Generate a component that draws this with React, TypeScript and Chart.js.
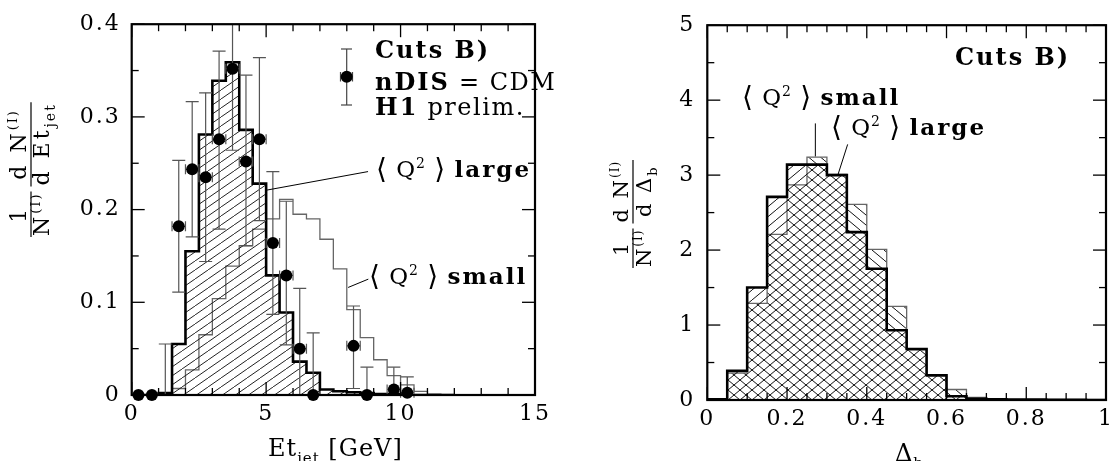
import React, { useEffect, useRef } from 'react';
import { Chart, registerables } from 'chart.js';

Chart.register(...registerables);

const SERIF = "'DejaVu Serif', 'DejaVu Sans', serif";

// ---------- Left panel: Et_jet distribution ----------
const etBinEdges = [0, 0.5, 1, 1.5, 2, 2.5, 3, 3.5, 4, 4.5, 5, 5.5, 6, 6.5, 7, 7.5, 8, 8.5, 9, 9.5, 10, 10.5, 11, 11.5, 12];
const etLargeQ2 = [0, 0, 0.002, 0.055, 0.155, 0.281, 0.339, 0.359, 0.286, 0.228, 0.129, 0.089, 0.036, 0.024, 0.006, 0.004, 0.003, 0.002, 0.001, 0.001, 0, 0, 0, 0];
const etSmallQ2 = [0, 0, 0, 0.007, 0.027, 0.065, 0.104, 0.139, 0.161, 0.179, 0.19, 0.211, 0.195, 0.19, 0.168, 0.136, 0.092, 0.062, 0.038, 0.021, 0.011, 0.004, 0.001, 0.0005];

const h1X = [0.25, 0.75, 1.25, 1.75, 2.25, 2.75, 3.25, 3.75, 4.25, 4.75, 5.25, 5.75, 6.25, 6.75, 8.25, 8.75, 9.75, 10.25];
const h1Y = [0, 0, 0, 0.182, 0.2435, 0.235, 0.276, 0.352, 0.252, 0.276, 0.164, 0.129, 0.05, 0, 0.053, 0, 0.006, 0.0025];
const h1ErrUp = [0, 0, 0.055, 0.071, 0.073, 0.091, 0.095, 0.09, 0.093, 0.088, 0.077, 0.08, 0.065, 0.067, 0.043, 0.03, 0.024, 0.017];
const h1ErrDown = [0, 0, 0, 0.071, 0.073, 0.091, 0.097, 0.088, 0.091, 0.088, 0.077, 0.075, 0.05, 0, 0.046, 0, 0.006, 0.0025];
const h1ShowDot = [1, 1, 0, 1, 1, 1, 1, 1, 1, 1, 1, 1, 1, 1, 1, 1, 1, 1];
const h1XErr = 0.25;

const etXTicks = [0, 5, 10, 15];
const etXLabels = ['0', '5', '10', '15'];
const etYTicks = [0, 0.1, 0.2, 0.3, 0.4];
const etYLabels = ['0', '0.1', '0.2', '0.3', '0.4'];

// ---------- Right panel: Delta_b distribution ----------
const dbBinEdges = [0, 0.05, 0.1, 0.15, 0.2, 0.25, 0.3, 0.35, 0.4, 0.45, 0.5, 0.55, 0.6, 0.65, 0.7, 0.75, 0.8, 0.85, 0.9, 0.95, 1];
const dbLargeQ2 = [0.01, 0.39, 1.5, 2.71, 3.14, 3.14, 3.0, 2.24, 1.75, 0.93, 0.68, 0.33, 0.05, 0.015, 0.01, 0.005, 0.005, 0.003, 0.002, 0.001];
const dbSmallQ2 = [0, 0.36, 1.29, 2.21, 2.87, 3.24, 3.01, 2.61, 2.01, 1.25, 0.67, 0.32, 0.14, 0.035, 0.01, 0.005, 0.003, 0.002, 0.001, 0];

const dbXTicks = [0, 0.2, 0.4, 0.6, 0.8, 1];
const dbXLabels = ['0', '0.2', '0.4', '0.6', '0.8', '1'];
const dbYTicks = [0, 1, 2, 3, 4, 5];
const dbYLabels = ['0', '1', '2', '3', '4', '5'];

type Run = { t: string; size: number; dy?: number; bold?: boolean; sp?: number };

function histPoints(edges: number[], vals: number[]) {
  const pts = [{ x: edges[0], y: 0 }];
  vals.forEach((v, i) => pts.push({ x: edges[i], y: v }));
  pts.push({ x: edges[vals.length], y: 0 });
  return pts;
}

function hatch(ctx: CanvasRenderingContext2D, dir: number, w: number, h: number, color: string, lw: number) {
  const c = document.createElement('canvas');
  c.width = w;
  c.height = h;
  const g = c.getContext('2d')!;
  g.strokeStyle = color;
  g.lineWidth = lw;
  for (const dx of [-w, 0, w]) {
    g.beginPath();
    if (dir > 0) {
      g.moveTo(dx, h);
      g.lineTo(dx + w, 0);
    } else {
      g.moveTo(dx, 0);
      g.lineTo(dx + w, h);
    }
    g.stroke();
  }
  return ctx.createPattern(c, 'repeat')!;
}

function font(r: Run) {
  return `${r.bold ? 'bold ' : ''}${r.size}px ${SERIF}`;
}

function runsWidth(ctx: CanvasRenderingContext2D, runs: Run[]) {
  let w = 0;
  for (const r of runs) {
    ctx.font = font(r);
    (ctx as any).letterSpacing = `${r.sp ?? 1}px`;
    w += ctx.measureText(r.t).width;
  }
  return w;
}

function drawRuns(ctx: CanvasRenderingContext2D, x: number, y: number, runs: Run[]) {
  let cx = x;
  ctx.textAlign = 'left';
  ctx.textBaseline = 'alphabetic';
  ctx.fillStyle = '#000';
  for (const r of runs) {
    ctx.font = font(r);
    (ctx as any).letterSpacing = `${r.sp ?? 1}px`;
    ctx.fillText(r.t, cx, y + (r.dy || 0));
    cx += ctx.measureText(r.t).width;
  }
  return cx;
}

function line(ctx: CanvasRenderingContext2D, x1: number, y1: number, x2: number, y2: number) {
  ctx.beginPath();
  ctx.moveTo(x1, y1);
  ctx.lineTo(x2, y2);
  ctx.stroke();
}

function drawFrameAndTicks(chart: any, xMinor: number, xMajor: number, yMinor: number, yMajor: number) {
  const ctx = chart.ctx as CanvasRenderingContext2D;
  const { left, right, top, bottom } = chart.chartArea;
  const xs = chart.scales.x;
  const ys = chart.scales.y;
  ctx.save();
  ctx.strokeStyle = '#000';
  ctx.lineWidth = 1.3;
  const nx = Math.round((xs.max - xs.min) / xMinor);
  for (let i = 0; i <= nx; i++) {
    const v = xs.min + i * xMinor;
    const px = xs.getPixelForValue(v);
    const r = v / xMajor;
    const L = Math.abs(r - Math.round(r)) < 1e-6 ? 13 : 7;
    line(ctx, px, bottom, px, bottom - L);
    line(ctx, px, top, px, top + L);
  }
  const ny = Math.round((ys.max - ys.min) / yMinor);
  for (let i = 0; i <= ny; i++) {
    const v = ys.min + i * yMinor;
    const py = ys.getPixelForValue(v);
    const r = v / yMajor;
    const L = Math.abs(r - Math.round(r)) < 1e-6 ? 13 : 7;
    line(ctx, left, py, left + L, py);
    line(ctx, right, py, right - L, py);
  }
  ctx.lineWidth = 2.2;
  ctx.strokeRect(left, top, right - left, bottom - top);
  ctx.restore();
}

function drawFractions(ctx: CanvasRenderingContext2D, barX: number, baseY: number, fracs: { num: Run[]; den: Run[] }[]) {
  ctx.save();
  ctx.translate(barX, baseY);
  ctx.rotate(-Math.PI / 2);
  ctx.strokeStyle = '#000';
  ctx.lineWidth = 1.2;
  let u = 0;
  for (const f of fracs) {
    const wN = runsWidth(ctx, f.num);
    const wD = runsWidth(ctx, f.den);
    const w = Math.max(wN, wD) + 2;
    drawRuns(ctx, u + (w - wN) / 2, -5, f.num);
    drawRuns(ctx, u + (w - wD) / 2, 18, f.den);
    line(ctx, u, 0, u + w, 0);
    u += w + 5;
  }
  ctx.restore();
}

function axisCfg(min: number, max: number, ticksArr: number[], labels: string[], padding: number, afterFit: (s: any) => void) {
  return {
    type: 'linear' as const,
    min,
    max,
    afterBuildTicks: (s: any) => {
      s.ticks = ticksArr.map((v) => ({ value: v }));
    },
    ticks: {
      padding,
      color: '#000',
      font: { family: SERIF, size: 22 },
      maxRotation: 0,
      autoSkip: false,
      callback: (v: any) => {
        const i = ticksArr.findIndex((t) => Math.abs(t - Number(v)) < 1e-9);
        return i >= 0 ? labels[i] : '';
      },
    },
    grid: { display: false, drawTicks: false },
    border: { display: false },
    afterFit,
  };
}

function q2Label(word: string): Run[] {
  return [
    { t: '⟨', size: 28, dy: 1 },
    { t: ' Q', size: 23 },
    { t: '2', size: 14, dy: -9 },
    { t: ' ', size: 23 },
    { t: '⟩', size: 28, dy: 1 },
    { t: ' ', size: 23 },
    { t: word, size: 23, bold: true, sp: 2 },
  ];
}

function makeLeft(canvas: HTMLCanvasElement) {
  const ctx = canvas.getContext('2d')!;
  const pat = hatch(ctx, 1, 13, 9, '#222', 1);
  const plugin = {
    id: 'leftPanel',
    beforeDraw(chart: any) {
      chart.ctx.letterSpacing = '2px';
    },
    beforeDatasetDraw(chart: any, args: any) {
      if (args.index !== 0) return;
      const c = chart.ctx as CanvasRenderingContext2D;
      const xs = chart.scales.x;
      const ys = chart.scales.y;
      const a = chart.chartArea;
      c.save();
      c.beginPath();
      c.rect(a.left, a.top, a.right - a.left, a.bottom - a.top + 3);
      c.clip();
      c.strokeStyle = '#555';
      c.lineWidth = 1.2;
      h1X.forEach((xv, i) => {
        const px = xs.getPixelForValue(xv);
        const py = ys.getPixelForValue(h1Y[i]);
        if (h1ErrUp[i] > 0) {
          const t = ys.getPixelForValue(h1Y[i] + h1ErrUp[i]);
          line(c, px, py, px, t);
          line(c, px - 6.5, t, px + 6.5, t);
        }
        if (h1ErrDown[i] > 0) {
          const b = ys.getPixelForValue(h1Y[i] - h1ErrDown[i]);
          line(c, px, py, px, b);
          if (h1Y[i] - h1ErrDown[i] > 0.001) line(c, px - 6.5, b, px + 6.5, b);
        }
        if (h1Y[i] > 0) {
          const l = xs.getPixelForValue(xv - h1XErr);
          const r = xs.getPixelForValue(xv + h1XErr);
          line(c, l, py, r, py);
          line(c, l, py - 5, l, py + 5);
          line(c, r, py - 5, r, py + 5);
        }
      });
      c.restore();
    },
    afterDraw(chart: any) {
      const c = chart.ctx as CanvasRenderingContext2D;
      const xs = chart.scales.x;
      const ys = chart.scales.y;
      drawFrameAndTicks(chart, 1, 5, 0.05, 0.1);
      c.save();
      // legend symbol
      c.strokeStyle = '#444';
      c.lineWidth = 1.2;
      line(c, 346.7, 49, 346.7, 105);
      line(c, 341, 49, 352, 49);
      line(c, 341, 105, 352, 105);
      line(c, 340.5, 76.7, 352.5, 76.7);
      line(c, 340.5, 72, 340.5, 81.5);
      line(c, 352.5, 72, 352.5, 81.5);
      c.fillStyle = '#000';
      c.beginPath();
      c.arc(346.7, 76.7, 6, 0, Math.PI * 2);
      c.fill();
      drawRuns(c, 375, 58, [{ t: 'Cuts B)', size: 24, bold: true, sp: 2 }]);
      drawRuns(c, 375, 90, [
        { t: 'nDIS', size: 24, bold: true, sp: 2 },
        { t: ' = CDM', size: 24, sp: 1.5 },
      ]);
      drawRuns(c, 375, 115, [
        { t: 'H1', size: 24, bold: true, sp: 2 },
        { t: ' prelim.', size: 24, sp: 1.5 },
      ]);
      // Q2 labels with pointers
      c.strokeStyle = '#000';
      c.lineWidth = 1;
      line(c, xs.getPixelForValue(5.02), ys.getPixelForValue(0.221), xs.getPixelForValue(8.79), ys.getPixelForValue(0.241));
      line(c, xs.getPixelForValue(8.05), ys.getPixelForValue(0.116), xs.getPixelForValue(8.8), ys.getPixelForValue(0.125));
      drawRuns(c, 376, 177, q2Label('large'));
      drawRuns(c, 369, 284, q2Label('small'));
      // axis titles
      drawRuns(c, 268, 456, [
        { t: 'Et', size: 24 },
        { t: 'jet', size: 15, dy: 7 },
        { t: ' [GeV]', size: 24 },
      ]);
      drawFractions(c, 31, 237, [
        { num: [{ t: '1', size: 22, sp: 3 }], den: [{ t: 'N', size: 22, sp: 3 }, { t: '(I)', size: 13, dy: -9, sp: 2 }] },
        {
          num: [{ t: 'd N', size: 22, sp: 3 }, { t: '(I)', size: 13, dy: -9, sp: 2 }],
          den: [{ t: 'd Et', size: 22, sp: 3 }, { t: 'jet', size: 14, dy: 6, sp: 2 }],
        },
      ]);
      c.restore();
    },
  };
  return new Chart(canvas, {
    type: 'scatter',
    data: {
      datasets: [
        {
          type: 'scatter',
          data: h1X.map((x, i) => ({ x, y: h1Y[i] })),
          pointRadius: h1ShowDot.map((d) => (d ? 6 : 0)),
          pointHoverRadius: h1ShowDot.map((d) => (d ? 6 : 0)),
          pointBackgroundColor: '#000',
          pointBorderWidth: 0,
          clip: false as any,
        },
        {
          type: 'line',
          data: histPoints(etBinEdges, etLargeQ2),
          stepped: 'before',
          borderColor: '#000',
          borderWidth: 2.6,
          pointRadius: 0,
          fill: 'origin',
          backgroundColor: pat as any,
        },
        {
          type: 'line',
          data: histPoints(etBinEdges, etSmallQ2),
          stepped: 'before',
          borderColor: '#666',
          borderWidth: 1.3,
          pointRadius: 0,
          fill: false,
        },
      ] as any,
    },
    options: {
      animation: false,
      responsive: false,
      maintainAspectRatio: false,
      events: [],
      layout: { padding: { left: 0, right: 25, top: 20.7, bottom: 0 } },
      plugins: { legend: { display: false }, tooltip: { enabled: false } },
      scales: {
        x: axisCfg(0, 15, etXTicks, etXLabels, 6, (s: any) => {
          s.height = 66;
        }),
        y: axisCfg(0, 0.4, etYTicks, etYLabels, 11, (s: any) => {
          s.width = 131.7;
        }),
      } as any,
    },
    plugins: [plugin],
  });
}

function makeRight(canvas: HTMLCanvasElement) {
  const ctx = canvas.getContext('2d')!;
  const patLarge = hatch(ctx, 1, 12, 10, '#111', 1);
  const patSmall = hatch(ctx, -1, 12, 10, '#111', 1);
  const plugin = {
    id: 'rightPanel',
    beforeDraw(chart: any) {
      chart.ctx.letterSpacing = '2px';
    },
    afterDraw(chart: any) {
      const c = chart.ctx as CanvasRenderingContext2D;
      const xs = chart.scales.x;
      const ys = chart.scales.y;
      drawFrameAndTicks(chart, 0.05, 0.2, 0.5, 1);
      c.save();
      c.strokeStyle = '#000';
      c.lineWidth = 1;
      line(c, xs.getPixelForValue(0.271), ys.getPixelForValue(3.69), xs.getPixelForValue(0.271), ys.getPixelForValue(3.25));
      line(c, xs.getPixelForValue(0.352), ys.getPixelForValue(3.41), xs.getPixelForValue(0.328), ys.getPixelForValue(3.01));
      drawRuns(c, 395, 65, [{ t: 'Cuts B)', size: 24, bold: true, sp: 2 }]);
      drawRuns(c, 182, 105, q2Label('small'));
      drawRuns(c, 271, 135, q2Label('large'));
      drawRuns(c, 335, 461, [
        { t: 'Δ', size: 24 },
        { t: 'b', size: 15, dy: 7 },
      ]);
      drawFractions(c, 73, 268, [
        { num: [{ t: '1', size: 21, sp: 2 }], den: [{ t: 'N', size: 21, sp: 2 }, { t: '(I)', size: 12, dy: -9, sp: 1 }] },
        {
          num: [{ t: 'd N', size: 21, sp: 2 }, { t: '(I)', size: 12, dy: -9, sp: 1 }],
          den: [{ t: 'd Δ', size: 21, sp: 2 }, { t: 'b', size: 13, dy: 6, sp: 1 }],
        },
      ]);
      c.restore();
    },
  };
  return new Chart(canvas, {
    type: 'scatter',
    data: {
      datasets: [
        {
          type: 'line',
          data: histPoints(dbBinEdges, dbLargeQ2),
          stepped: 'before',
          borderColor: '#000',
          borderWidth: 2.6,
          pointRadius: 0,
          fill: 'origin',
          backgroundColor: patLarge as any,
        },
        {
          type: 'line',
          data: histPoints(dbBinEdges, dbSmallQ2),
          stepped: 'before',
          borderColor: '#666',
          borderWidth: 1.3,
          pointRadius: 0,
          fill: 'origin',
          backgroundColor: patSmall as any,
        },
      ] as any,
    },
    options: {
      animation: false,
      responsive: false,
      maintainAspectRatio: false,
      events: [],
      layout: { padding: { left: 0, right: 2.3, top: 20.7, bottom: 0 } },
      plugins: { legend: { display: false }, tooltip: { enabled: false } },
      scales: {
        x: axisCfg(0, 1, dbXTicks, dbXLabels, 6, (s: any) => {
          s.height = 61;
        }),
        y: axisCfg(0, 5, dbYTicks, dbYLabels, 12, (s: any) => {
          s.width = 147.3;
        }),
      } as any,
    },
    plugins: [plugin],
  });
}

export default function App() {
  const leftRef = useRef<HTMLCanvasElement>(null);
  const rightRef = useRef<HTMLCanvasElement>(null);
  useEffect(() => {
    const c1 = makeLeft(leftRef.current!);
    const c2 = makeRight(rightRef.current!);
    return () => {
      c1.destroy();
      c2.destroy();
    };
  }, []);
  return (
    <div style={{ position: 'fixed', left: 0, top: 0, width: 1119, height: 461, background: '#fff', overflow: 'hidden' }}>
      <canvas ref={leftRef} width={560} height={461} style={{ position: 'absolute', left: 0, top: 0, width: 560, height: 461 }} />
      <canvas ref={rightRef} width={559} height={461} style={{ position: 'absolute', left: 560, top: 0, width: 559, height: 461 }} />
    </div>
  );
}
